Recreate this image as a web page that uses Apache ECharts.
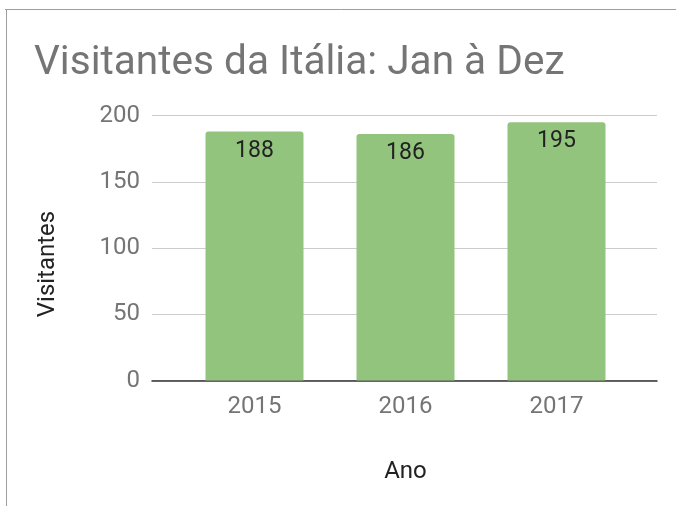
<!DOCTYPE html>
<html><head><meta charset="utf-8">
<script src="https://cdn.jsdelivr.net/npm/echarts@6/dist/echarts.min.js"></script>
<style>html,body{margin:0;padding:0;background:#fff}#c{width:676px;height:506px}</style>
</head><body><div id="c"></div>
<script>
const categories = ['2015', '2016', '2017'];
const visitantes = [188, 186, 195];
const yTicks = [0, 50, 100, 150, 200];
const titleText = 'Visitantes da Itália: Jan à Dez';
const xName = 'Ano';
const yName = 'Visitantes';

const chart = echarts.init(document.getElementById('c'));
const FONT = 'Roboto';
chart.setOption({
  backgroundColor: '#fff',
  animation: false,
  title: {
    text: titleText, left: 29, top: 38,
    textStyle: { fontFamily: FONT, fontSize: 40.6, fontWeight: 'normal', color: '#757575' }
  },
  graphic: [
    { type: 'line', shape: { x1: 5, y1: 9.5, x2: 676, y2: 9.5 }, style: { stroke: '#9e9e9e', lineWidth: 1 } },
    { type: 'line', shape: { x1: 6.5, y1: 9, x2: 6.5, y2: 506 }, style: { stroke: '#9e9e9e', lineWidth: 1 } },
    { type: 'text', x: 48, y: 264, rotation: Math.PI / 2,
      style: { text: yName, fontFamily: FONT, fontSize: 24, fill: '#222', textAlign: 'center', textVerticalAlign: 'middle' } }
  ],
  grid: [
    { left: 152, right: 19, top: 115.5, bottom: 125.5 },
    { left: 179, right: 44, top: 115.5, bottom: 125.5 }
  ],
  xAxis: [
    { gridIndex: 0, type: 'category', data: categories, axisLine: { lineStyle: { color: '#333', width: 1.5 } },
      axisTick: { show: false }, axisLabel: { show: false } },
    { gridIndex: 1, type: 'category', data: categories, axisLine: { show: false }, axisTick: { show: false },
      axisLabel: { fontFamily: FONT, fontSize: 24, color: '#757575', margin: 14 },
      name: xName, nameLocation: 'middle', nameGap: 79,
      nameTextStyle: { fontFamily: FONT, fontSize: 24, color: '#222' } }
  ],
  yAxis: [
    { gridIndex: 0, type: 'value', min: yTicks[0], max: yTicks[yTicks.length - 1], interval: 50,
      axisLine: { show: false }, axisTick: { show: false },
      splitLine: { lineStyle: { color: '#cccccc', width: 1 } },
      axisLabel: { fontFamily: FONT, fontSize: 24, color: '#757575', margin: 12 } },
    { gridIndex: 1, type: 'value', min: yTicks[0], max: yTicks[yTicks.length - 1], interval: 50, show: false }
  ],
  series: [{
    type: 'bar', xAxisIndex: 1, yAxisIndex: 1, data: visitantes, barWidth: 98,
    itemStyle: { color: '#93c47d', borderRadius: [3, 3, 0, 0] },
    label: { show: true, position: 'insideTop', distance: 8, fontFamily: FONT, fontSize: 23, color: '#222' }
  }]
});
</script></body></html>
